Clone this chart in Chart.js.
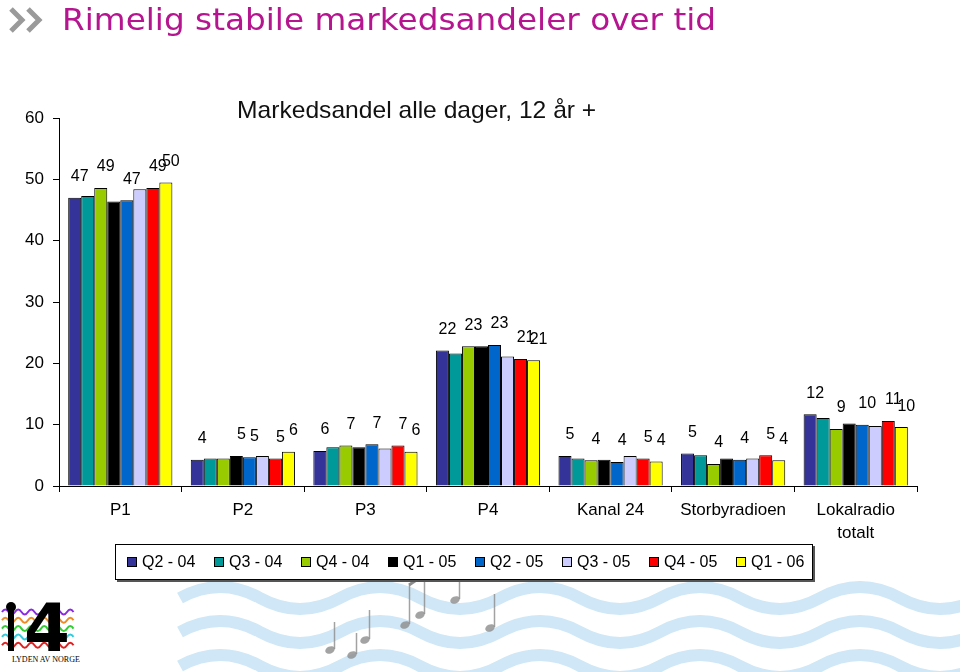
<!DOCTYPE html>
<html>
<head>
<meta charset="utf-8">
<script src="https://cdn.jsdelivr.net/npm/chart.js@4.4.0/dist/chart.umd.min.js"></script>
<style>
  body { margin: 0; background: #fff; font-family: "Liberation Sans", Arial, sans-serif; }
  #page { position: relative; width: 960px; height: 672px; overflow: hidden; }
  #deco { position: absolute; left: 0; top: 0; z-index: 0; }
  #market-chart { position: absolute; left: 0; top: 0; z-index: 1; }
  #head { position: absolute; left: 62px; top: 1px; font-family: "DejaVu Sans", Verdana, sans-serif;
          font-size: 31px; color: #b5158f; white-space: nowrap; transform-origin: 0 0; z-index: 2; }
  #subtitle { position: absolute; left: 237px; top: 96px; font-size: 24px; color: #111; white-space: nowrap; transform-origin: 0 0; z-index: 2; }
  #legend { position: absolute; left: 115px; top: 544px; width: 696px; height: 34px; border: 1px solid #000;
            box-shadow: 2px 2px 0 #555; display: flex; align-items: center; z-index: 2; background: #fff; }
  .item { width: 87px; display: flex; align-items: center; font-size: 16px; color: #000; padding-left: 11px; box-sizing: border-box; }
  .item i { display: inline-block; width: 8px; height: 8px; border: 1px solid #000; margin-right: 5px; }
</style>
</head>
<body>
<div id="page">
  <svg id="deco" width="960" height="672"></svg>
  <div id="head">Rimelig stabile markedsandeler over tid</div>
  <div id="subtitle">Markedsandel alle dager, 12 år +</div>
  <canvas id="market-chart" width="960" height="672"></canvas>
  <div id="legend"></div>
</div>
<script>
const categories = ["P1", "P2", "P3", "P4", "Kanal 24", "Storbyradioen", ["Lokalradio", "totalt"]]
const yTicks = [0, 10, 20, 30, 40, 50, 60]

const seriesNames = ["Q2 - 04", "Q3 - 04", "Q4 - 04", "Q1 - 05", "Q2 - 05", "Q3 - 05", "Q4 - 05", "Q1 - 06"]
const seriesColors = ["#333399", "#009999", "#99cc00", "#000000", "#0066cc", "#ccccff", "#ff0000", "#ffff00"]

// values
const q2_04 = [47.0, 4.3, 5.7, 22.1, 4.9, 5.3, 11.7]
const q3_04 = [47.3, 4.5, 6.3, 21.6, 4.5, 5.0, 11.1]
const q4_04 = [48.6, 4.5, 6.6, 22.8, 4.2, 3.6, 9.3]
const q1_05 = [46.4, 4.9, 6.3, 22.8, 4.3, 4.5, 10.2]
const q2_05 = [46.6, 4.7, 6.8, 23.0, 3.9, 4.3, 10.0]
const q3_05 = [48.4, 4.9, 6.1, 21.1, 4.9, 4.5, 9.8]
const q4_05 = [48.6, 4.5, 6.6, 20.7, 4.5, 5.0, 10.6]
const q1_06 = [49.5, 5.6, 5.6, 20.5, 4.0, 4.2, 9.6]

// the value labels that are printed in the picture (null = none shown)
const lab_q2_04 = [47, 4, 6, 22, 5, 5, 12]
const lab_q3_04 = [null, null, null, null, null, null, null]
const lab_q4_04 = [49, null, 7, 23, 4, 4, 9]
const lab_q1_05 = [null, 5, null, null, null, null, null]
const lab_q2_05 = [47, 5, 7, 23, 4, 4, 10]
const lab_q3_05 = [null, null, null, null, null, null, null]
const lab_q4_05 = [49, 5, 7, 21, 5, 5, 11]
const lab_q1_06 = [50, 6, 6, 21, 4, 4, 10]

const seriesValues = [q2_04, q3_04, q4_04, q1_05, q2_05, q3_05, q4_05, q1_06]
const seriesLabels = [lab_q2_04, lab_q3_04, lab_q4_04, lab_q1_05, lab_q2_05, lab_q3_05, lab_q4_05, lab_q1_06]

const FONT = '"Liberation Sans", Arial, sans-serif'

const barLabels = {
    id: "barLabels",
    afterDatasetsDraw(chart) {
        const ctx = chart.ctx
        ctx.save()
        ctx.font = "16px " + FONT
        ctx.fillStyle = "#000"
        ctx.textAlign = "center"
        ctx.textBaseline = "middle"
        chart.data.datasets.forEach((ds, i) => {
            chart.getDatasetMeta(i).data.forEach((bar, j) => {
                const t = ds.shownLabels[j]
                if (t == null) return
                ctx.fillText(String(t), bar.x + 5, bar.y - 21)
            })
        })
        ctx.restore()
    },
}

let marketChart = new Chart(document.getElementById("market-chart").getContext("2d"), {
    type: "bar",
    data: {
        labels: categories,
        datasets: seriesNames.map((name, i) => ({
            label: name,
            data: seriesValues[i],
            shownLabels: seriesLabels[i],
            backgroundColor: seriesColors[i],
            borderColor: "#000",
            borderWidth: 1,
            borderSkipped: "bottom",
            categoryPercentage: 0.85,
            barPercentage: 1.0,
        })),
    },
    options: {
        responsive: false,
        animation: false,
        layout: { padding: { top: 118, right: 43, left: 0, bottom: 0 } },
        plugins: {
            legend: { display: false },
            tooltip: { enabled: false },
        },
        scales: {
            x: {
                afterFit: (s) => { s.height = 186 },
                grid: { display: true, drawOnChartArea: false, offset: true, color: "#000", tickLength: 6 },
                border: { color: "#000", width: 1 },
                ticks: { color: "#000", font: { family: FONT, size: 17, lineHeight: 1.35 }, padding: 7, maxRotation: 0 },
            },
            y: {
                min: 0,
                max: 60,
                afterFit: (s) => { s.width = 59 },
                afterBuildTicks: (s) => { s.ticks = yTicks.map((v) => ({ value: v })) },
                grid: { display: true, drawOnChartArea: false, color: "#000", tickLength: 6 },
                border: { color: "#000", width: 1 },
                ticks: { color: "#000", font: { family: FONT, size: 17 }, padding: 9 },
            },
        },
    },
    plugins: [barLabels],
})

// legend below the chart
const legendBox = document.getElementById("legend")
seriesNames.forEach((name, i) => {
    const item = document.createElement("div")
    item.className = "item"
    item.innerHTML = `<i style="background:${seriesColors[i]}"></i>${name}`
    legendBox.appendChild(item)
})

// stretch the headings to the widths they have in the picture
const head = document.getElementById("head")
head.style.transform = `scaleX(${654 / head.offsetWidth})`
const sub = document.getElementById("subtitle")
sub.style.transform = `scaleX(${359 / sub.offsetWidth})`

// decorations: chevrons, logo, waves and notes
const svgNS = "http://www.w3.org/2000/svg"
const deco = document.getElementById("deco")
function add(tag, attrs, text) {
    const el = document.createElementNS(svgNS, tag)
    for (const k in attrs) el.setAttribute(k, attrs[k])
    if (text) el.textContent = text
    deco.appendChild(el)
    return el
}

add("polyline", { points: "11,9 22,20 11,31", fill: "none", stroke: "#9a9a9a", "stroke-width": 5 })
add("polyline", { points: "28,9 39,20 28,31", fill: "none", stroke: "#9a9a9a", "stroke-width": 5 })

function wave(x0, x1, y, half, amp) {
    let d = `M${x0},${y} q${half / 2},${-amp} ${half},0`
    for (let x = x0 + half; x < x1; x += half) d += ` t${half},0`
    return d
}
const waveRows = [598, 632, 666]
waveRows.forEach((y) => {
    add("path", { d: wave(180, 980, y, 80, 22), fill: "none", stroke: "#cfe7f6", "stroke-width": 12 })
})

const notes = [[330, 650, 28], [365, 640, 30], [405, 625, 40], [420, 615, 45], [455, 600, 38], [490, 628, 34], [352, 655, 22]]
notes.forEach(([x, y, h]) => {
    add("ellipse", { cx: x, cy: y, rx: 5, ry: 3.5, fill: "#8c8c8c", transform: `rotate(-25 ${x} ${y})`, opacity: 0.8 })
    add("line", { x1: x + 4.5, y1: y - 1, x2: x + 4.5, y2: y - h, stroke: "#8c8c8c", "stroke-width": 1.5, opacity: 0.8 })
})
add("path", { d: "M409,585 L424,575", stroke: "#8c8c8c", "stroke-width": 3, fill: "none" })

const logoColors = ["#8a2be2", "#f08a24", "#33cc33", "#33ccdd", "#e02020"]
logoColors.forEach((c, i) => {
    add("path", { d: wave(2, 70, 612 + i * 8.3, 6.5, 5), fill: "none", stroke: c, "stroke-width": 2 })
})
add("rect", { x: 8, y: 607, width: 6, height: 44, fill: "#000" })
add("circle", { cx: 11, cy: 607, r: 5, fill: "#000" })
add("text", { x: 24, y: 651, "font-family": "DejaVu Sans", "font-weight": "bold", "font-size": 66, fill: "#000" }, "4")
add("text", { x: 12, y: 662, "font-family": "Liberation Serif", "font-size": 8, fill: "#000" }, "LYDEN AV NORGE")
</script>
</body>
</html>
